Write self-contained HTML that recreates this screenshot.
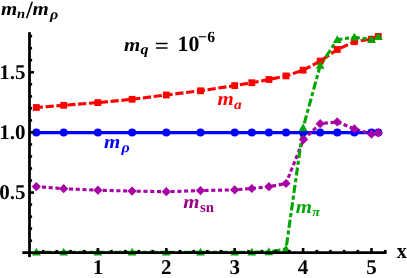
<!DOCTYPE html>
<html><head><meta charset="utf-8"><title>plot</title>
<style>
html,body{margin:0;padding:0;background:#fff;}
body{width:407px;height:278px;position:relative;overflow:hidden;font-family:"Liberation Serif",serif;}
svg text{font-family:"Liberation Serif",serif;font-weight:bold;text-rendering:geometricPrecision;}
</style></head><body>
<svg width="407" height="278" viewBox="0 0 407 278" style="position:absolute;left:0;top:0;will-change:transform"><rect width="407" height="278" fill="#fff"/><g fill="none" stroke-width="3.1"><polyline points="36.3,132.6 63.7,132.6 97.9,132.6 132.1,132.6 166.3,132.6 200.5,132.6 234.7,132.6 251.8,132.6 268.9,132.6 286.0,132.6 303.1,132.6 320.2,132.6 337.3,132.6 354.4,132.6 371.5,132.6 378.3,132.6" stroke="#0000ff"/><polyline points="36.3,107.5 63.7,105.3 97.9,102.6 132.1,99.3 166.3,95.0 200.5,90.8 234.7,85.6 251.8,82.7 268.9,79.5 286.0,75.9 303.1,70.2 320.2,61.1 337.3,49.5 354.4,41.7 371.5,39.2 378.3,36.4" stroke="#ff0000" stroke-dasharray="8.19 2.67" stroke-dashoffset="1.5"/><polyline points="36.3,186.6 63.7,188.7 97.9,190.2 132.1,191.1 166.3,191.7 200.5,190.6 234.7,189.8 251.8,188.5 268.9,186.7 286.0,183.5 303.5,139.6 320.2,123.7 337.3,121.9 354.4,128.9 371.5,134.1 378.3,132.8" stroke="#a600a6" stroke-dasharray="4.1 2.68" stroke-dashoffset="1.2"/><polyline points="36.3,252.2 63.7,252.2 97.9,252.2 132.1,252.2 166.3,252.2 200.5,252.2 234.7,252.2 251.8,252.2 268.9,251.8 286.0,249.0 303.1,127.8 320.2,65.5 337.3,39.7 354.4,37.2 371.5,39.5 378.3,36.8" stroke="#00a600" stroke-dasharray="8.181 2.663 4.09 2.663" stroke-dashoffset="-7.34"/></g><circle cx="36.34" cy="132.55" r="4.0" fill="#0000ff"/><circle cx="63.70" cy="132.55" r="4.0" fill="#0000ff"/><circle cx="97.90" cy="132.55" r="4.0" fill="#0000ff"/><circle cx="132.10" cy="132.55" r="4.0" fill="#0000ff"/><circle cx="166.30" cy="132.55" r="4.0" fill="#0000ff"/><circle cx="200.50" cy="132.55" r="4.0" fill="#0000ff"/><circle cx="234.70" cy="132.55" r="4.0" fill="#0000ff"/><circle cx="251.80" cy="132.55" r="4.0" fill="#0000ff"/><circle cx="268.90" cy="132.55" r="4.0" fill="#0000ff"/><circle cx="286.00" cy="132.55" r="4.0" fill="#0000ff"/><circle cx="303.10" cy="132.55" r="4.0" fill="#0000ff"/><circle cx="320.20" cy="132.55" r="4.0" fill="#0000ff"/><circle cx="337.30" cy="132.55" r="4.0" fill="#0000ff"/><circle cx="354.40" cy="132.55" r="4.0" fill="#0000ff"/><circle cx="371.50" cy="132.55" r="4.0" fill="#0000ff"/><circle cx="378.34" cy="132.55" r="4.0" fill="#0000ff"/><rect x="32.94" y="104.10" width="6.8" height="6.8" fill="#ff0000"/><rect x="60.30" y="101.90" width="6.8" height="6.8" fill="#ff0000"/><rect x="94.50" y="99.20" width="6.8" height="6.8" fill="#ff0000"/><rect x="128.70" y="95.90" width="6.8" height="6.8" fill="#ff0000"/><rect x="162.90" y="91.60" width="6.8" height="6.8" fill="#ff0000"/><rect x="197.10" y="87.40" width="6.8" height="6.8" fill="#ff0000"/><rect x="231.30" y="82.20" width="6.8" height="6.8" fill="#ff0000"/><rect x="248.40" y="79.30" width="6.8" height="6.8" fill="#ff0000"/><rect x="265.50" y="76.10" width="6.8" height="6.8" fill="#ff0000"/><rect x="282.60" y="72.50" width="6.8" height="6.8" fill="#ff0000"/><rect x="299.70" y="66.80" width="6.8" height="6.8" fill="#ff0000"/><rect x="316.80" y="57.70" width="6.8" height="6.8" fill="#ff0000"/><rect x="333.90" y="46.10" width="6.8" height="6.8" fill="#ff0000"/><rect x="351.00" y="38.30" width="6.8" height="6.8" fill="#ff0000"/><rect x="368.10" y="35.80" width="6.8" height="6.8" fill="#ff0000"/><rect x="374.94" y="33.00" width="6.8" height="6.8" fill="#ff0000"/><path d="M36.34 182.00L40.94 186.60L36.34 191.20L31.74 186.60Z" fill="#a600a6"/><path d="M63.70 184.10L68.30 188.70L63.70 193.30L59.10 188.70Z" fill="#a600a6"/><path d="M97.90 185.60L102.50 190.20L97.90 194.80L93.30 190.20Z" fill="#a600a6"/><path d="M132.10 186.50L136.70 191.10L132.10 195.70L127.50 191.10Z" fill="#a600a6"/><path d="M166.30 187.10L170.90 191.70L166.30 196.30L161.70 191.70Z" fill="#a600a6"/><path d="M200.50 186.00L205.10 190.60L200.50 195.20L195.90 190.60Z" fill="#a600a6"/><path d="M234.70 185.20L239.30 189.80L234.70 194.40L230.10 189.80Z" fill="#a600a6"/><path d="M251.80 183.90L256.40 188.50L251.80 193.10L247.20 188.50Z" fill="#a600a6"/><path d="M268.90 182.10L273.50 186.70L268.90 191.30L264.30 186.70Z" fill="#a600a6"/><path d="M286.00 178.90L290.60 183.50L286.00 188.10L281.40 183.50Z" fill="#a600a6"/><path d="M303.50 135.00L308.10 139.60L303.50 144.20L298.90 139.60Z" fill="#a600a6"/><path d="M320.20 119.10L324.80 123.70L320.20 128.30L315.60 123.70Z" fill="#a600a6"/><path d="M337.30 117.30L341.90 121.90L337.30 126.50L332.70 121.90Z" fill="#a600a6"/><path d="M354.40 124.30L359.00 128.90L354.40 133.50L349.80 128.90Z" fill="#a600a6"/><path d="M371.50 129.50L376.10 134.10L371.50 138.70L366.90 134.10Z" fill="#a600a6"/><path d="M378.34 128.20L382.94 132.80L378.34 137.40L373.74 132.80Z" fill="#a600a6"/><path d="M36.34 247.80L40.69 255.60L31.99 255.60Z" fill="#00a600"/><path d="M63.70 247.80L68.05 255.60L59.35 255.60Z" fill="#00a600"/><path d="M97.90 247.80L102.25 255.60L93.55 255.60Z" fill="#00a600"/><path d="M132.10 247.80L136.45 255.60L127.75 255.60Z" fill="#00a600"/><path d="M166.30 247.80L170.65 255.60L161.95 255.60Z" fill="#00a600"/><path d="M200.50 247.80L204.85 255.60L196.15 255.60Z" fill="#00a600"/><path d="M234.70 247.80L239.05 255.60L230.35 255.60Z" fill="#00a600"/><path d="M251.80 247.70L256.15 255.50L247.45 255.50Z" fill="#00a600"/><path d="M268.90 247.35L273.25 255.15L264.55 255.15Z" fill="#00a600"/><path d="M286.00 244.55L290.35 252.35L281.65 252.35Z" fill="#00a600"/><path d="M303.10 123.35L307.45 131.15L298.75 131.15Z" fill="#00a600"/><path d="M320.20 61.00L324.55 68.80L315.85 68.80Z" fill="#00a600"/><path d="M337.30 35.25L341.65 43.05L332.95 43.05Z" fill="#00a600"/><path d="M354.40 32.80L358.75 40.60L350.05 40.60Z" fill="#00a600"/><path d="M371.50 35.10L375.85 42.90L367.15 42.90Z" fill="#00a600"/><path d="M378.34 32.30L382.69 40.10L373.99 40.10Z" fill="#00a600"/><g stroke="#000"><line x1="22.3" y1="252.7" x2="386.6" y2="252.7" stroke-width="2.8"/><line x1="29.5" y1="32.2" x2="29.5" y2="257.1" stroke-width="2.8"/><g stroke-width="2.6"><line x1="43.18" y1="252.7" x2="43.18" y2="249.90"/><line x1="56.86" y1="252.7" x2="56.86" y2="249.90"/><line x1="70.54" y1="252.7" x2="70.54" y2="249.90"/><line x1="84.22" y1="252.7" x2="84.22" y2="249.90"/><line x1="97.90" y1="252.7" x2="97.90" y2="248.00"/><line x1="111.58" y1="252.7" x2="111.58" y2="249.90"/><line x1="125.26" y1="252.7" x2="125.26" y2="249.90"/><line x1="138.94" y1="252.7" x2="138.94" y2="249.90"/><line x1="152.62" y1="252.7" x2="152.62" y2="249.90"/><line x1="166.30" y1="252.7" x2="166.30" y2="248.00"/><line x1="179.98" y1="252.7" x2="179.98" y2="249.90"/><line x1="193.66" y1="252.7" x2="193.66" y2="249.90"/><line x1="207.34" y1="252.7" x2="207.34" y2="249.90"/><line x1="221.02" y1="252.7" x2="221.02" y2="249.90"/><line x1="234.70" y1="252.7" x2="234.70" y2="248.00"/><line x1="248.38" y1="252.7" x2="248.38" y2="249.90"/><line x1="262.06" y1="252.7" x2="262.06" y2="249.90"/><line x1="275.74" y1="252.7" x2="275.74" y2="249.90"/><line x1="289.42" y1="252.7" x2="289.42" y2="249.90"/><line x1="303.10" y1="252.7" x2="303.10" y2="248.00"/><line x1="316.78" y1="252.7" x2="316.78" y2="249.90"/><line x1="330.46" y1="252.7" x2="330.46" y2="249.90"/><line x1="344.14" y1="252.7" x2="344.14" y2="249.90"/><line x1="357.82" y1="252.7" x2="357.82" y2="249.90"/><line x1="371.50" y1="252.7" x2="371.50" y2="248.00"/><line x1="385.18" y1="252.7" x2="385.18" y2="249.90"/><line x1="29.5" y1="240.67" x2="32.10" y2="240.67"/><line x1="29.5" y1="228.64" x2="32.10" y2="228.64"/><line x1="29.5" y1="216.61" x2="32.10" y2="216.61"/><line x1="29.5" y1="204.58" x2="32.10" y2="204.58"/><line x1="29.5" y1="192.55" x2="34.00" y2="192.55"/><line x1="29.5" y1="180.52" x2="32.10" y2="180.52"/><line x1="29.5" y1="168.49" x2="32.10" y2="168.49"/><line x1="29.5" y1="156.46" x2="32.10" y2="156.46"/><line x1="29.5" y1="144.43" x2="32.10" y2="144.43"/><line x1="29.5" y1="132.40" x2="34.00" y2="132.40"/><line x1="29.5" y1="120.37" x2="32.10" y2="120.37"/><line x1="29.5" y1="108.34" x2="32.10" y2="108.34"/><line x1="29.5" y1="96.31" x2="32.10" y2="96.31"/><line x1="29.5" y1="84.28" x2="32.10" y2="84.28"/><line x1="29.5" y1="72.25" x2="34.00" y2="72.25"/><line x1="29.5" y1="60.22" x2="32.10" y2="60.22"/><line x1="29.5" y1="48.19" x2="32.10" y2="48.19"/><line x1="29.5" y1="36.16" x2="32.10" y2="36.16"/></g></g><text x="97.9" y="274.2" font-size="21" text-anchor="middle" fill="#000">1</text><text x="166.3" y="274.2" font-size="21" text-anchor="middle" fill="#000">2</text><text x="234.7" y="274.2" font-size="21" text-anchor="middle" fill="#000">3</text><text x="303.1" y="274.2" font-size="21" text-anchor="middle" fill="#000">4</text><text x="371.5" y="274.2" font-size="21" text-anchor="middle" fill="#000">5</text><text x="25.6" y="199.4" font-size="21" text-anchor="end" fill="#000">0.5</text><text x="25.6" y="139.3" font-size="21" text-anchor="end" fill="#000">1.0</text><text x="25.6" y="79.2" font-size="21" text-anchor="end" fill="#000">1.5</text><text transform="translate(396.85 258.2) scale(1 1.07)" font-size="20.2" fill="#000">x</text><text transform="translate(0.9 15.2) scale(1 0.92)" font-size="20.9" fill="#000" font-style="italic">m</text><text transform="translate(17.1 18.3) scale(1 0.92)" font-size="14.6" fill="#000" font-style="italic">n</text><text x="26.1" y="17.7" font-size="24.5" fill="#000">/</text><text transform="translate(32.6 15.2) scale(1 0.92)" font-size="20.9" fill="#000" font-style="italic">m</text><text transform="translate(49.9 18.9) scale(1 0.9)" font-size="16.0" fill="#000" font-style="italic">&#961;</text><text transform="translate(124.0 50.6) scale(1 0.92)" font-size="20.9" fill="#000" font-style="italic">m</text><text transform="translate(140.5 53.6) scale(1 0.9)" font-size="16.0" fill="#000" font-style="italic">q</text><text transform="translate(154.76 52.5) scale(1.13 1)" font-size="22" fill="#000">=</text><text x="177.5" y="50.5" font-size="21.8" fill="#000">10</text><text x="198.0" y="42.3" font-size="15.8" fill="#000">&#8722;</text><text x="207.2" y="41.5" font-size="15.6" fill="#000">6</text><text transform="translate(217.6 104.5) scale(1 0.92)" font-size="20.9" fill="#ff0000" font-style="italic">m</text><text transform="translate(234.1 108.5) scale(1 0.9)" font-size="15.4" fill="#ff0000" font-style="italic">a</text><text transform="translate(103.9 148) scale(1 0.92)" font-size="20.9" fill="#0000ff" font-style="italic">m</text><text transform="translate(121.4 151.9) scale(1 0.9)" font-size="16.0" fill="#0000ff" font-style="italic">&#961;</text><text transform="translate(183.2 208) scale(1 0.92)" font-size="20.9" fill="#9a0085" font-style="italic">m</text><text x="199.9" y="211.7" font-size="14.8" fill="#9a0085">sn</text><text transform="translate(295.8 212.5) scale(1 0.92)" font-size="20.9" fill="#00a600" font-style="italic">m</text><text transform="translate(312.3 216.3) scale(1 0.92)" font-size="14.2" fill="#00a600" font-style="italic">&#960;</text></svg>
</body></html>
